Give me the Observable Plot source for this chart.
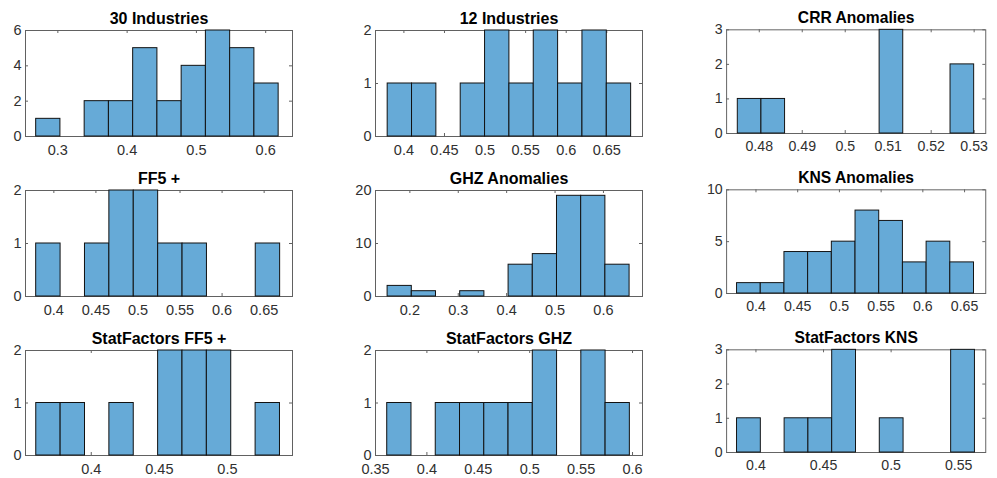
<!DOCTYPE html>
<html><head><meta charset="utf-8">
<script src="https://cdn.jsdelivr.net/npm/d3@7"></script>
<script src="https://cdn.jsdelivr.net/npm/@observablehq/plot@0.6"></script>
<style>
html,body{margin:0;padding:0;background:#fff;}
#chart{position:relative;width:997px;height:478px;overflow:hidden;font-family:"Liberation Sans",Arial,sans-serif;}
#chart > div{position:absolute;}
</style>
</head><body><div id="chart"></div>
<script>
// ---- data ----
const titles = ["30 Industries","12 Industries","CRR Anomalies","FF5 +","GHZ Anomalies","KNS Anomalies","StatFactors FF5 +","StatFactors GHZ","StatFactors KNS"];

const edges30Ind = [0.2687,0.3037,0.3387,0.3737,0.4087,0.4437,0.4787,0.5137,0.5487,0.5837,0.6187];
const counts30Ind = [1,0,2,2,5,2,4,6,5,3];
const edges12Ind = [0.38,0.41,0.44,0.47,0.50,0.53,0.56,0.59,0.62,0.65,0.68];
const counts12Ind = [1,1,0,1,2,1,2,1,2,1];
const edgesCRR = [0.475,0.4805,0.486,0.4915,0.497,0.5025,0.508,0.5135,0.519,0.5245,0.53];
const countsCRR = [1,1,0,0,0,0,3,0,0,2];
const edgesFF5 = [0.379,0.408,0.437,0.466,0.495,0.524,0.553,0.582,0.611,0.64,0.669];
const countsFF5 = [1,0,1,2,2,1,1,0,0,1];
const edgesGHZ = [0.154,0.204,0.254,0.304,0.354,0.404,0.454,0.504,0.554,0.604,0.654];
const countsGHZ = [2,1,0,1,0,6,8,19,19,6];
const edgesKNS = [0.3773,0.4057,0.4341,0.4625,0.4909,0.5193,0.5477,0.5761,0.6045,0.6329,0.6613];
const countsKNS = [1,1,4,4,5,8,7,3,5,3];
const edgesSFFF5 = [0.3596,0.3775,0.3954,0.4133,0.4312,0.4491,0.467,0.4849,0.5028,0.5207,0.5386];
const countsSFFF5 = [1,1,0,1,0,2,2,2,0,1];
const edgesSFGHZ = [0.3614,0.385,0.4086,0.4322,0.4558,0.4794,0.503,0.5266,0.5502,0.5738,0.5974];
const countsSFGHZ = [1,0,1,1,1,1,2,0,2,1];
const edgesSFKNS = [0.386,0.4036,0.4212,0.4388,0.4564,0.474,0.4916,0.5092,0.5268,0.5444,0.562];
const countsSFKNS = [1,0,1,1,3,0,1,0,0,3];

const xDomains = [[0.2533,0.6387],[0.365,0.694],[0.4724,0.5327],[0.3663,0.6837],[0.129,0.6807],[0.3648,0.6754],[0.3517,0.5478],[0.35,0.6097],[0.3783,0.57]];
const xTicks = [
  [0.3,0.4,0.5,0.6],
  [0.4,0.45,0.5,0.55,0.6,0.65],
  [0.48,0.49,0.5,0.51,0.52,0.53],
  [0.4,0.45,0.5,0.55,0.6,0.65],
  [0.2,0.3,0.4,0.5,0.6],
  [0.4,0.45,0.5,0.55,0.6,0.65],
  [0.4,0.45,0.5],
  [0.35,0.4,0.45,0.5,0.55,0.6],
  [0.4,0.45,0.5,0.55]
];
const yTicks = [[0,2,4,6],[0,1,2],[0,1,2,3],[0,1,2],[0,10,20],[0,5,10],[0,1,2],[0,1,2],[0,1,2,3]];

const edgesAll = [edges30Ind,edges12Ind,edgesCRR,edgesFF5,edgesGHZ,edgesKNS,edgesSFFF5,edgesSFGHZ,edgesSFKNS];
const countsAll = [counts30Ind,counts12Ind,countsCRR,countsFF5,countsGHZ,countsKNS,countsSFFF5,countsSFGHZ,countsSFKNS];

// ---- layout ----
const colLeft = [25, 375, 727];
const colW = [267, 267, 265];
const rowTop = [30, 190, 350];
const rowH = [106, 106, 105];
const ML = 40, MT = 30, MR = 12, MB = 26;
const axisColor = "#303030";
const frameColor = "#616161";

const chart = document.getElementById("chart");
titles.forEach((title, i) => {
  const r = Math.floor(i / 3), c = i % 3;
  const w = colW[c], h = rowH[r];
  const edges = edgesAll[i], counts = countsAll[i];
  const bins = counts.map((n, k) => ({x1: edges[k], x2: edges[k + 1], n})).filter(d => d.n > 0);
  const yMax = yTicks[i][yTicks[i].length - 1];
  const tl = 3;
  const svg = Plot.plot({
    width: ML + w + MR,
    height: MT + h + MB,
    marginLeft: ML, marginTop: MT, marginRight: MR, marginBottom: MB,
    style: {fontFamily: "'Liberation Sans', Arial, sans-serif", fontSize: "14.5px", color: axisColor, background: "transparent", overflow: "visible"},
    x: {domain: xDomains[i]},
    y: {domain: [0, yMax]},
    marks: [
      Plot.frame({stroke: frameColor, strokeWidth: 1}),
      Plot.tickX(xTicks[i], {x: d => d, insetTop: h - tl, stroke: frameColor}),
      Plot.tickX(xTicks[i], {x: d => d, insetBottom: h - tl, stroke: frameColor}),
      Plot.tickY(yTicks[i], {y: d => d, insetRight: w - tl, stroke: frameColor}),
      Plot.tickY(yTicks[i], {y: d => d, insetLeft: w - tl, stroke: frameColor}),
      Plot.rectY(bins, {x1: "x1", x2: "x2", y1: 0, y2: "n", fill: "#66AAD7", stroke: "#111", strokeWidth: 1}),
      Plot.axisX({ticks: xTicks[i], tickSize: 0, tickPadding: 8, tickFormat: d => String(d), fill: axisColor, fontSize: 14.5, label: null}),
      Plot.axisY({ticks: yTicks[i], tickSize: 0, tickPadding: 4, tickFormat: d => String(d), fill: axisColor, fontSize: 14.5, label: null}),
      Plot.text([title], {frameAnchor: "top", dy: -12, lineAnchor: "middle", text: d => d, fontWeight: "bold", fontSize: 16, fill: "#000"})
    ]
  });
  const holder = document.createElement("div");
  holder.style.left = (colLeft[c] - ML) + "px";
  holder.style.top = (rowTop[r] - MT) + "px";
  holder.appendChild(svg);
  chart.appendChild(holder);
});
</script>
</body></html>
